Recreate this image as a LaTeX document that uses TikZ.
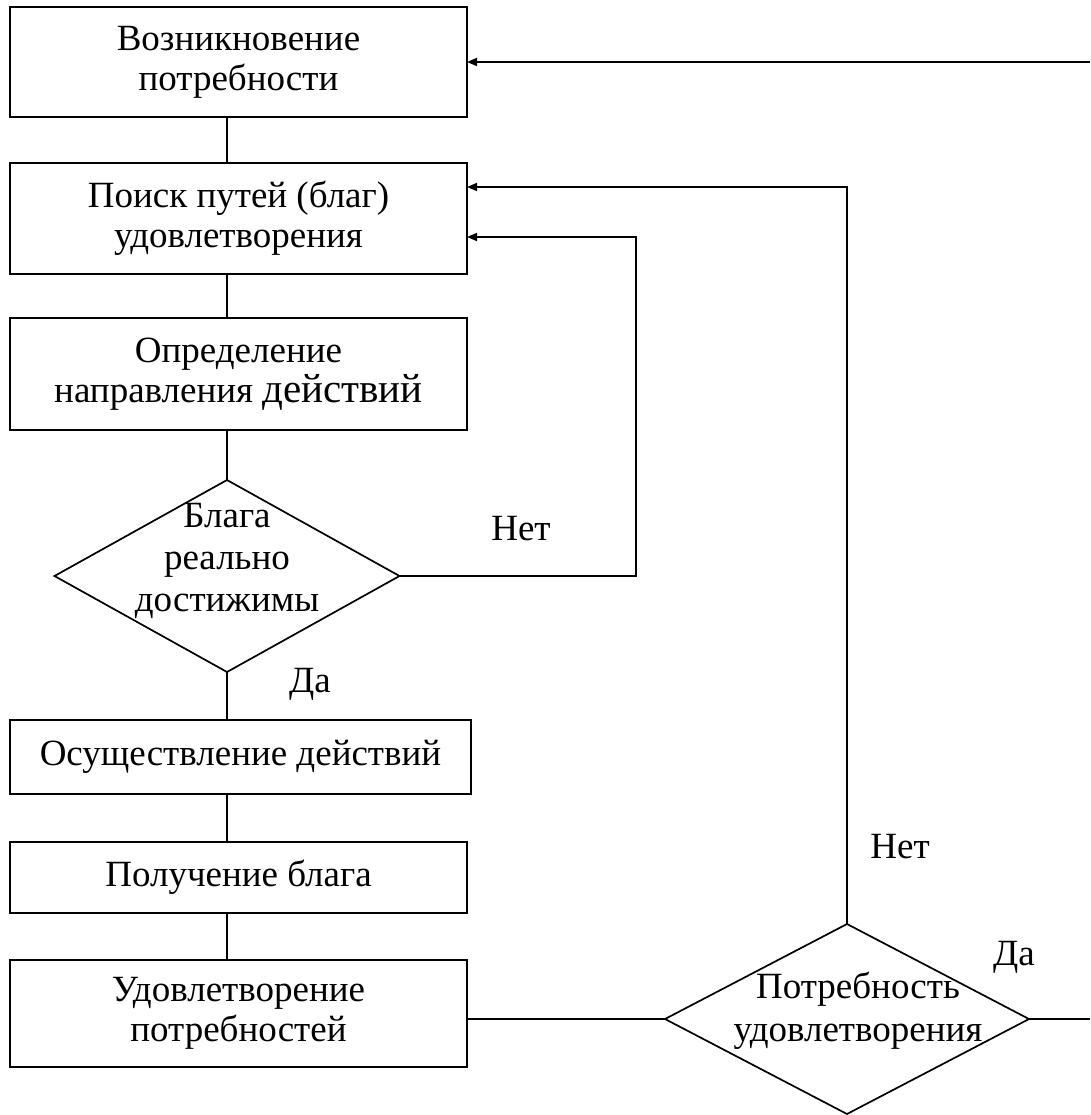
\documentclass[tikz,border=0pt]{standalone}
\usepackage{fontspec}
\setmainfont{Liberation Serif}
\usetikzlibrary{arrows.meta, positioning, shapes.geometric}

\begin{document}
\begin{tikzpicture}[
    x=1pt, y=-1pt,
    every node/.style={font=\fontsize{37}{40}\selectfont},
    block/.style={rectangle, draw=black, line width=1.7pt, minimum width=457pt, align=center, inner sep=0pt, outer sep=0pt},
    decision/.style={diamond, draw=black, line width=1.7pt, inner sep=0pt, outer sep=0pt},
    line/.style={line width=1.7pt},
    arrow/.style={-{Triangle[length=10pt, width=8pt]}, line width=1.7pt},
  ]
  \useasboundingbox (0,0) rectangle (1090,1115);

  % Main chain
  \node[block, minimum height=110pt] (need) at (238.5,62) {Возникновение\\потребности};
  \node[block, minimum height=111pt, below=46pt of need] (search) {Поиск путей (благ)\\удовлетворения};
  \node[block, minimum height=112pt, below=44pt of search] (direction) {Определение\\направления {\fontsize{41}{46}\selectfont действий}};
  \node[decision, minimum width=345pt, minimum height=192pt, below=50pt of direction, xshift=-11.5pt,
    label={[align=center, font=\fontsize{37}{42}\selectfont, yshift=15pt]center:{Блага\\реально\\достижимы}}] (reach) {};
  \node[block, minimum width=461pt, minimum height=74pt, below=48pt of reach, xshift=13.5pt] (act) {Осуществление действий};
  \node[block, minimum height=71pt, below=48pt of act, xshift=-2pt] (gain) {Получение блага};
  \node[block, minimum height=107pt, below=47pt of gain] (satisfy) {Удовлетворение\\потребностей};

  % Check
  \node[decision, minimum width=364pt, minimum height=190pt, right=198pt of satisfy, yshift=-5.5pt,
    label={[align=center, font=\fontsize{37}{43}\selectfont, xshift=11pt, yshift=8pt]center:{Потребность\\удовлетворения}}] (check) {};

  % Labels
  \node[anchor=base] (no1) at (521,540) {Нет};
  \node[anchor=base] (yes1) at (310,692) {Да};
  \node[anchor=base] (no2) at (900,858) {Нет};
  \node[anchor=base] (yes2) at (1014,965) {Да};

  % Edge points
  \coordinate (topexit) at (1090,62);
  \coordinate (yesexit) at (1090,1019);
  \coordinate (nobend) at (636,237);

  % Connectors
  \draw[line] (need.south -| reach.north) -- (search.north -| reach.north);
  \draw[line] (search.south -| reach.north) -- (direction.north -| reach.north);
  \draw[line] (direction.south -| reach.north) -- (reach.north);
  \draw[line] (reach.south) -- (act.north -| reach.south);
  \draw[line] (act.south -| reach.south) -- (gain.north -| reach.south);
  \draw[line] (gain.south -| reach.south) -- (satisfy.north -| reach.south);
  \draw[line] (satisfy.east |- check.west) -- (check.west);
  \draw[line] (check.east) -- (yesexit);
  \draw[arrow] (topexit) -- (need.east);
  \draw[arrow] (reach.east) -| (nobend) -- (search.east |- nobend);
  \draw[arrow] (check.north) |- ([yshift=-24pt]search.north east);

\end{tikzpicture}
\end{document}
